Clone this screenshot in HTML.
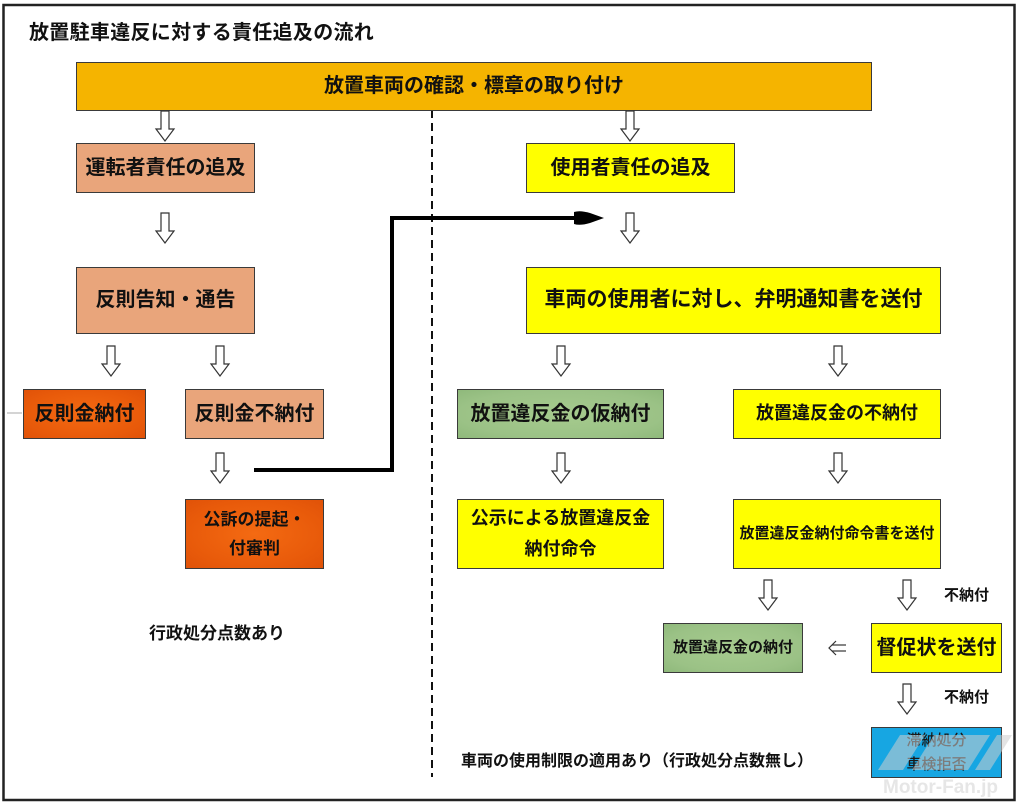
<!DOCTYPE html>
<html><head><meta charset="utf-8">
<style>
html,body{margin:0;padding:0;background:#fff;}
body{width:1023px;height:807px;position:relative;overflow:hidden;font-family:"Liberation Sans","Noto Sans CJK JP",sans-serif;}
.b{position:absolute;box-sizing:border-box;border:1.5px solid #3a3a3a;display:flex;align-items:center;justify-content:center;text-align:center;font-weight:700;color:#111;line-height:1.55;white-space:nowrap;}
.t{position:absolute;font-weight:700;color:#111;white-space:nowrap;line-height:1;}
.gold{background:#F5B400;}
.sal{background:#E9A57B;}
.org{background:radial-gradient(ellipse at center,#F46A12 0%,#E85A0A 70%,#E05208 100%);}
.grn{background:radial-gradient(ellipse at center,#A6CB8E 0%,#9BC286 70%,#8FB97B 100%);}
.yel{background:#FFFF00;}
.blu{background:#17A6E2;}
</style></head><body>
<svg width="1023" height="807" style="position:absolute;left:0;top:0" xmlns="http://www.w3.org/2000/svg">
  <rect x="3.5" y="5" width="1011" height="795" fill="none" stroke="#222" stroke-width="2.5"/>
  <line x1="432" y1="110" x2="432" y2="777" stroke="#111" stroke-width="2" stroke-dasharray="8 5"/>
  <line x1="7" y1="413" x2="22" y2="413" stroke="#aaa" stroke-width="1"/>
</svg>

<div class="t" style="left:29px;top:23px;font-size:20px;letter-spacing:0.3px;">放置駐車違反に対する責任追及の流れ</div>

<div class="b gold" style="left:76px;top:62px;width:796px;height:49px;font-size:20px;">放置車両の確認・標章の取り付け</div>

<div class="b sal" style="left:76px;top:143px;width:179px;height:50px;font-size:20px;">運転者責任の追及</div>
<div class="b sal" style="left:76px;top:267px;width:179px;height:67px;font-size:20px;">反則告知・通告</div>
<div class="b org" style="left:23px;top:389px;width:123px;height:50px;font-size:20px;">反則金納付</div>
<div class="b sal" style="left:185px;top:389px;width:139px;height:50px;font-size:20px;">反則金不納付</div>
<div class="b org" style="left:185px;top:499px;width:139px;height:70px;font-size:17px;line-height:29px;">公訴の提起・<br>付審判</div>

<div class="t" style="left:149px;top:625px;font-size:17px;">行政処分点数あり</div>

<div class="b yel" style="left:526px;top:143px;width:209px;height:50px;font-size:20px;">使用者責任の追及</div>
<div class="b yel" style="left:526px;top:267px;width:415px;height:67px;font-size:21px;">車両の使用者に対し、弁明通知書を送付</div>
<div class="b grn" style="left:457px;top:389px;width:207px;height:50px;font-size:20px;">放置違反金の仮納付</div>
<div class="b yel" style="left:733px;top:389px;width:208px;height:50px;font-size:18px;">放置違反金の不納付</div>
<div class="b yel" style="left:457px;top:499px;width:207px;height:70px;font-size:18px;line-height:31px;">公示による放置違反金<br>納付命令</div>
<div class="b yel" style="left:733px;top:499px;width:208px;height:70px;font-size:15px;">放置違反金納付命令書を送付</div>
<div class="t" style="left:944px;top:588px;font-size:15px;">不納付</div>
<div class="b grn" style="left:663px;top:623px;width:140px;height:50px;font-size:15px;">放置違反金の納付</div>
<div class="b yel" style="left:871px;top:623px;width:131px;height:50px;font-size:20px;">督促状を送付</div>
<div class="t" style="left:944px;top:690px;font-size:15px;">不納付</div>
<div class="b blu" style="left:871px;top:727px;width:131px;height:51px;font-size:15px;line-height:24px;font-weight:500;color:#1a1a1a;">滞納処分<br>車検拒否</div>

<div class="t" style="left:461px;top:754px;font-size:16px;">車両の使用制限の適用あり（行政処分点数無し）</div>

<svg width="1023" height="807" style="position:absolute;left:0;top:0" xmlns="http://www.w3.org/2000/svg">
  <g fill="#fff" stroke="#333" stroke-width="1.2" stroke-linejoin="miter">
    <polygon points="161,111 169,111 169,129 174,129 165,141 156,129 161,129"/>
    <polygon points="626,111 634,111 634,129 639,129 630,141 621,129 626,129"/>
    <polygon points="161,213 169,213 169,231 174,231 165,243 156,231 161,231"/>
    <polygon points="626,213 634,213 634,231 639,231 630,243 621,231 626,231"/>
    <polygon points="107,346 115,346 115,364 120,364 111,376 102,364 107,364"/>
    <polygon points="216,346 224,346 224,364 229,364 220,376 211,364 216,364"/>
    <polygon points="557,346 565,346 565,364 570,364 561,376 552,364 557,364"/>
    <polygon points="834,346 842,346 842,364 847,364 838,376 829,364 834,364"/>
    <polygon points="216,453 224,453 224,471 229,471 220,483 211,471 216,471"/>
    <polygon points="557,453 565,453 565,471 570,471 561,483 552,471 557,471"/>
    <polygon points="834,453 842,453 842,471 847,471 838,483 829,471 834,471"/>
    <polygon points="764,580 772,580 772,598 777,598 768,610 759,598 764,598"/>
    <polygon points="903,580 911,580 911,598 916,598 907,610 898,598 903,598"/>
    <polygon points="903,684 911,684 911,702 916,702 907,714 898,702 903,702"/>
  </g>
  <path d="M254,470 H392 V218 H576" fill="none" stroke="#000" stroke-width="4"/>
  <path d="M574,212 Q580,210 590,213 L604,218 L590,223 Q580,226 574,224 Z" fill="#000"/>
  <g stroke="#333" stroke-width="1.2" fill="none">
    <line x1="832" y1="645" x2="846" y2="645"/>
    <line x1="832" y1="651" x2="846" y2="651"/>
    <polyline points="836,641 829,648 836,655"/>
  </g>
  <g fill="rgba(205,205,205,0.55)">
    <polygon points="878,770 900,735 925,735 903,770"/>
    <polygon points="912,770 934,735 990,735 968,770"/>
    <polygon points="975,770 997,735 1012,735 990,770"/>
  </g>
  <text x="883" y="793" font-family="Liberation Sans, sans-serif" font-weight="700" font-size="19" fill="#e6e6e6">Motor-Fan.jp</text>
</svg>
</body></html>
